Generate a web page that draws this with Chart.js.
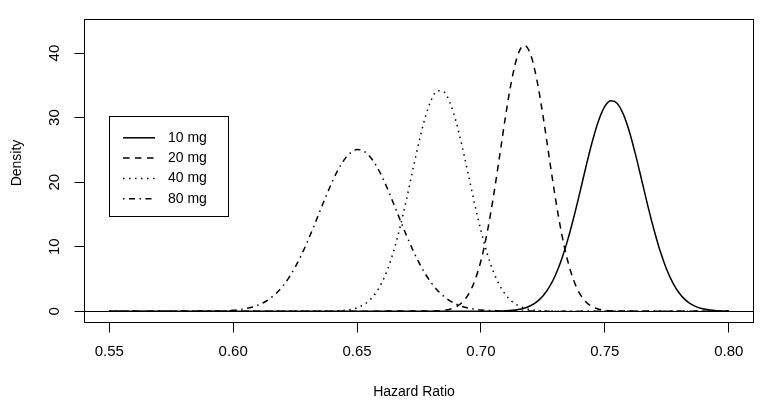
<!DOCTYPE html>
<html>
<head>
<meta charset="utf-8">
<script src="https://cdn.jsdelivr.net/npm/chart.js@4.4.1/dist/chart.umd.min.js"></script>
<style>
  html, body { margin: 0; padding: 0; background: #fff; }
  #wrap { width: 764px; height: 408px; }
</style>
</head>
<body>
<div id="wrap"><canvas id="myChart" width="764" height="408"></canvas></div>
<script>
// tick labels
const xTicks = [0.55, 0.60, 0.65, 0.70, 0.75, 0.80];
const yTicks = [0, 10, 20, 30, 40];
const doses = ['10 mg', '20 mg', '40 mg', '80 mg'];

// densities (hazard ratio -> density)
const hr10 = [0.55, 0.705, 0.71, 0.7125, 0.715, 0.7175, 0.72, 0.7225, 0.725, 0.7275, 0.73, 0.7325, 0.735, 0.7375,
    0.74, 0.7425, 0.745, 0.7475, 0.75, 0.7525, 0.755, 0.7575, 0.76, 0.7625, 0.765, 0.7675, 0.77, 0.7725,
    0.775, 0.7775, 0.78, 0.7825, 0.785, 0.7875, 0.79, 0.7925, 0.795, 0.80];
const dens10 = [0, 0.01, 0.07, 0.13, 0.26, 0.47, 0.84, 1.44, 2.35, 3.68, 5.53, 7.97, 11.02, 14.59,
    18.53, 22.58, 26.37, 29.54, 31.73, 32.6, 32.2, 30.5, 27.7, 24.1, 20.1, 16.1, 12.4, 9.12,
    6.43, 4.36, 2.83, 1.76, 1.05, 0.60, 0.33, 0.17, 0.09, 0.02];

const hr20 = [0.55, 0.68, 0.6825, 0.685, 0.6875, 0.69, 0.6925, 0.695, 0.6975, 0.70, 0.7025, 0.705, 0.7075,
    0.71, 0.7125, 0.715, 0.7175, 0.72, 0.7225, 0.725, 0.7275, 0.73, 0.7325, 0.735, 0.7375, 0.74,
    0.7425, 0.745, 0.7475, 0.75, 0.7525, 0.755, 0.80];
const dens20 = [0, 0.02, 0.05, 0.13, 0.31, 0.69, 1.39, 2.64, 4.71, 7.82, 12.15, 17.66, 23.95,
    30.38, 35.98, 39.84, 41.2, 39.84, 35.98, 30.38, 23.95, 17.66, 12.15, 7.82, 4.71, 2.64,
    1.39, 0.69, 0.31, 0.13, 0.05, 0.02, 0];

const hr40 = [0.55, 0.64, 0.6425, 0.645, 0.6475, 0.65, 0.6525, 0.655, 0.6575, 0.66, 0.6625, 0.665, 0.6675,
    0.67, 0.6725, 0.675, 0.6775, 0.68, 0.6825, 0.685, 0.6875, 0.69, 0.6925, 0.695, 0.6975, 0.70,
    0.7025, 0.705, 0.7075, 0.71, 0.7125, 0.715, 0.7175, 0.72, 0.7225, 0.725, 0.73, 0.80];
const dens40 = [0, 0.03, 0.07, 0.14, 0.28, 0.53, 0.96, 1.68, 2.79, 4.41, 6.67, 9.61, 13.25,
    17.43, 21.88, 26.22, 30.01, 32.77, 34.17, 34.01, 32.32, 29.32, 25.38, 20.99, 16.56, 12.48,
    8.97, 6.16, 4.04, 2.53, 1.51, 0.86, 0.47, 0.24, 0.12, 0.06, 0.01, 0];

const hr80 = [0.55, 0.59, 0.595, 0.60, 0.6025, 0.605, 0.6075, 0.61, 0.6125, 0.615, 0.6175, 0.62, 0.6225,
    0.625, 0.6275, 0.63, 0.6325, 0.635, 0.6375, 0.64, 0.6425, 0.645, 0.6475, 0.65, 0.6525, 0.655,
    0.6575, 0.66, 0.6625, 0.665, 0.6675, 0.67, 0.6725, 0.675, 0.6775, 0.68, 0.6825, 0.685, 0.6875,
    0.69, 0.6925, 0.695, 0.6975, 0.70, 0.705, 0.71, 0.80];
const dens80 = [0, 0.02, 0.05, 0.15, 0.25, 0.40, 0.61, 0.94, 1.39, 2.01, 2.83, 3.89, 5.21,
    6.81, 8.68, 10.80, 13.09, 15.48, 17.85, 20.08, 22.04, 23.57, 24.60, 25.04, 24.85, 24.05,
    22.71, 20.91, 18.78, 16.43, 14.04, 11.69, 9.50, 7.53, 5.81, 4.39, 3.22, 2.31, 1.61,
    1.10, 0.73, 0.48, 0.30, 0.19, 0.07, 0.02, 0];

const FONT = '"Liberation Sans", Arial, sans-serif';

function pts(xs, ys) {
    return xs.map((x, i) => ({ x: x, y: ys[i] }));
}

function serie(label, xs, ys, dash) {
    return {
        label: label,
        data: pts(xs, ys),
        borderColor: '#000',
        borderWidth: 1.5,
        borderDash: dash,
        pointRadius: 0,
        fill: false,
        cubicInterpolationMode: 'monotone'
    };
}

// box, rotated y labels, axis titles and the legend, R style
const rStyle = {
    id: 'rStyle',
    afterDraw(chart) {
        const { ctx, chartArea: a, scales } = chart;
        ctx.save();
        ctx.strokeStyle = '#000';
        ctx.lineWidth = 1;
        ctx.setLineDash([]);
        ctx.strokeRect(a.left, a.top, a.right - a.left, a.bottom - a.top);

        ctx.fillStyle = '#000';
        ctx.font = '15px ' + FONT;
        ctx.textAlign = 'center';
        ctx.textBaseline = 'middle';
        for (const v of yTicks) {
            ctx.save();
            ctx.translate(55, scales.y.getPixelForValue(v));
            ctx.rotate(-Math.PI / 2);
            ctx.fillText(String(v), 0, 0);
            ctx.restore();
        }
        ctx.font = '14px ' + FONT;
        ctx.save();
        ctx.translate(17, 163);
        ctx.rotate(-Math.PI / 2);
        ctx.fillText('Density', 0, 0);
        ctx.restore();
        ctx.fillText('Hazard Ratio', 414, 392);

        // legend
        ctx.strokeRect(109.5, 116.5, 119, 100);
        chart.data.datasets.forEach((ds, i) => {
            const y = 137.8 + i * 20.3;
            ctx.beginPath();
            ctx.lineWidth = ds.borderWidth;
            ctx.setLineDash(ds.borderDash);
            ctx.moveTo(123, y);
            ctx.lineTo(155, y);
            ctx.stroke();
            ctx.textAlign = 'left';
            ctx.fillText(ds.label, 168, y);
        });
        ctx.restore();
    }
};

const myChart = new Chart(document.getElementById('myChart'), {
    type: 'line',
    data: {
        datasets: [
            serie(doses[0], hr10, dens10, []),
            serie(doses[1], hr20, dens20, [6.5, 5.5]),
            serie(doses[2], hr40, dens40, [1.5, 4.5]),
            serie(doses[3], hr80, dens80, [1.5, 4.5, 6, 4.5])
        ]
    },
    options: {
        responsive: false,
        animation: false,
        layout: { padding: { top: 19.5, right: 10.5, left: 0, bottom: 0 } },
        plugins: {
            legend: { display: false },
            tooltip: { enabled: false }
        },
        scales: {
            x: {
                type: 'linear',
                min: 0.54,
                max: 0.81,
                border: { display: false },
                grid: { drawOnChartArea: false, drawTicks: true, tickLength: 10, color: '#000', lineWidth: 1 },
                ticks: {
                    color: '#000',
                    font: { family: FONT, size: 15 },
                    padding: 10,
                    maxRotation: 0,
                    callback: v => v.toFixed(2)
                },
                afterBuildTicks: s => { s.ticks = xTicks.map(v => ({ value: v })); },
                afterFit: s => { s.height = 85.5; }
            },
            y: {
                type: 'linear',
                min: -1.75,
                max: 45.2,
                border: { display: false },
                grid: {
                    drawOnChartArea: true,
                    drawTicks: true,
                    tickLength: 10,
                    tickColor: '#000',
                    color: c => (c.tick && c.tick.value === 0) ? '#000' : 'rgba(0,0,0,0)',
                    lineWidth: 1
                },
                ticks: { color: 'rgba(0,0,0,0)', font: { family: FONT, size: 15 } },
                afterBuildTicks: s => { s.ticks = yTicks.map(v => ({ value: v })); },
                afterFit: s => { s.width = 84.5; }
            }
        }
    },
    plugins: [rStyle]
});
</script>
</body>
</html>
